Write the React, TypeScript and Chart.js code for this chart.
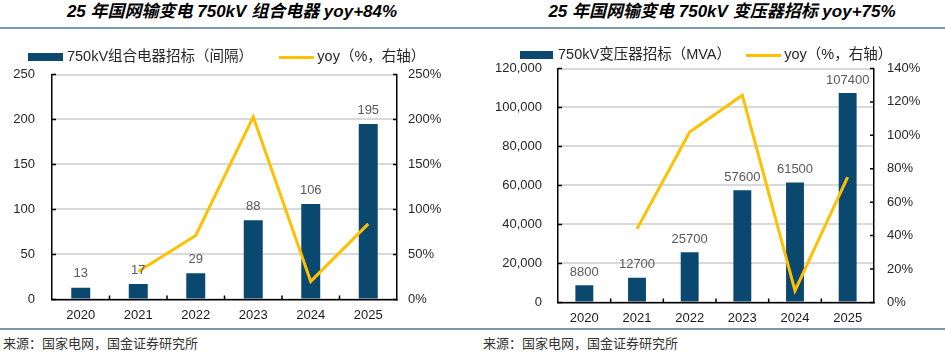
import React, { useEffect, useRef } from 'react';
import { Chart, registerables } from 'chart.js';

Chart.register(...registerables);

// ---------- data ----------
const years = ['2020', '2021', '2022', '2023', '2024', '2025'];
const gisValues = [13, 17, 29, 88, 106, 195];
const gisYoy = [null, 31, 71, 203, 20, 84];
const trafoValues = [8800, 12700, 25700, 57600, 61500, 107400];
const trafoYoy = [null, 44, 102, 124, 7, 75];

const gisTitle = '25 年国网输变电 750kV 组合电器 yoy+84%';
const trafoTitle = '25 年国网输变电 750kV 变压器招标 yoy+75%';
const gisBarLabel = '750kV组合电器招标（间隔）';
const trafoBarLabel = '750kV变压器招标（MVA）';
const yoyLabel = 'yoy（%，右轴）';
const sourceText = '来源：国家电网，国金证券研究所';

const gisLeftAxis = { min: 0, max: 250, step: 50 };
const gisRightAxis = { min: 0, max: 250, step: 50 };
const trafoLeftAxis = { min: 0, max: 120000, step: 20000 };
const trafoRightAxis = { min: 0, max: 140, step: 20 };

// ---------- style ----------
const BAR = '#0b4870';
const LINE = '#ffc000';
const LATIN = "'Liberation Sans', Arial, 'Noto Sans CJK SC', sans-serif";

function makeSwatch(w: number, h: number, color: string) {
  const c = document.createElement('canvas');
  c.width = w;
  c.height = h;
  const x = c.getContext('2d')!;
  x.fillStyle = color;
  x.fillRect(0, 0, w, h);
  return c;
}

const innerTicks = {
  id: 'innerTicks',
  afterDraw(chart: any) {
    const { ctx, chartArea: a, scales } = chart;
    ctx.save();
    ctx.strokeStyle = '#000';
    ctx.lineWidth = 1.5;
    ctx.beginPath();
    scales.y.ticks.forEach((t: any) => {
      const y = scales.y.getPixelForValue(t.value);
      ctx.moveTo(a.left, y);
      ctx.lineTo(a.left + 4, y);
    });
    scales.y1.ticks.forEach((t: any) => {
      const y = scales.y1.getPixelForValue(t.value);
      ctx.moveTo(a.right - 4, y);
      ctx.lineTo(a.right, y);
    });
    const n = scales.x.ticks.length;
    for (let i = 1; i < n; i++) {
      const x = (scales.x.getPixelForTick(i - 1) + scales.x.getPixelForTick(i)) / 2;
      ctx.moveTo(x, a.bottom);
      ctx.lineTo(x, a.bottom - 4);
    }
    ctx.stroke();
    ctx.restore();
  },
};

function barLabels(offset: number) {
  return {
    id: 'barLabels',
    afterDatasetsDraw(chart: any) {
      const { ctx } = chart;
      const meta = chart.getDatasetMeta(0);
      const data = chart.data.datasets[0].data;
      ctx.save();
      ctx.font = `13px ${LATIN}`;
      ctx.fillStyle = '#595959';
      ctx.textAlign = 'center';
      ctx.textBaseline = 'middle';
      meta.data.forEach((el: any, i: number) => {
        ctx.fillText(String(data[i]), el.x, el.y - offset);
      });
      ctx.restore();
    },
  };
}

type Cfg = {
  values: number[];
  yoy: (number | null)[];
  barLabel: string;
  left: { min: number; max: number; step: number };
  right: { min: number; max: number; step: number };
  leftFmt: (v: number) => string;
  leftWidth: number;
  rightWidth: number;
  leftPad: number;
  rightPad: number;
  legendPad: number;
  legendMaxH: number;
  layoutPad: { top: number; left: number; right: number; bottom: number };
  swatchW: number;
  barPct: number;
  labelOffset: number;
  width: number;
  height: number;
};

function ComboChart({ cfg }: { cfg: Cfg }) {
  const ref = useRef<HTMLCanvasElement>(null);
  useEffect(() => {
    const barSwatch = makeSwatch(cfg.swatchW, 8, BAR);
    const lineSwatch = makeSwatch(35, 3, LINE);
    const tickFont = { family: LATIN, size: 13 };
    const chart = new Chart(ref.current!, {
      type: 'bar',
      data: {
        labels: years,
        datasets: [
          {
            type: 'bar',
            label: cfg.barLabel,
            data: cfg.values,
            backgroundColor: BAR,
            yAxisID: 'y',
            order: 2,
            categoryPercentage: 1,
            barPercentage: cfg.barPct,
          } as any,
          {
            type: 'line',
            label: yoyLabel,
            data: cfg.yoy,
            borderColor: LINE,
            backgroundColor: LINE,
            borderWidth: 3,
            pointRadius: 0,
            tension: 0,
            yAxisID: 'y1',
            order: 1,
          } as any,
        ],
      },
      options: {
        animation: false,
        responsive: false,
        maintainAspectRatio: false,
        layout: { padding: cfg.layoutPad },
        plugins: {
          tooltip: { enabled: false },
          legend: {
            display: true,
            position: 'top',
            align: 'center',
            maxHeight: cfg.legendMaxH,
            labels: {
              usePointStyle: true,
              pointStyleWidth: 28,
              boxHeight: 8,
              padding: cfg.legendPad,
              color: '#262626',
              font: { family: LATIN, size: 14.5 },
              sort: (a: any, b: any) => a.datasetIndex - b.datasetIndex,
              generateLabels: (ch: any) => {
                const items = (Chart.defaults.plugins.legend.labels as any).generateLabels(ch);
                items.forEach((it: any) => {
                  it.pointStyle = it.datasetIndex === 0 ? barSwatch : lineSwatch;
                  it.lineWidth = 0;
                });
                return items;
              },
            },
          },
        },
        scales: {
          x: {
            grid: { display: false, drawTicks: false },
            border: { display: true, color: '#000', width: 1.5 },
            ticks: { padding: 8, color: '#1a1a1a', font: tickFont, maxRotation: 0 },
          },
          y: {
            position: 'left',
            min: cfg.left.min,
            max: cfg.left.max,
            ticks: {
              stepSize: cfg.left.step,
              padding: cfg.leftPad,
              color: '#262626',
              font: tickFont,
              callback: (v: any) => cfg.leftFmt(Number(v)),
            },
            grid: { color: '#d9d9d9', lineWidth: 2, drawTicks: false },
            border: { display: true, color: '#000', width: 1.5 },
            afterFit: (s: any) => {
              s.width = cfg.leftWidth;
            },
          },
          y1: {
            position: 'right',
            min: cfg.right.min,
            max: cfg.right.max,
            ticks: {
              stepSize: cfg.right.step,
              padding: cfg.rightPad,
              color: '#262626',
              font: tickFont,
              callback: (v: any) => `${v}%`,
            },
            grid: { drawOnChartArea: false, drawTicks: false },
            border: { display: true, color: '#000', width: 1.5 },
            afterFit: (s: any) => {
              s.width = cfg.rightWidth;
            },
          },
        },
      } as any,
      plugins: [innerTicks, barLabels(cfg.labelOffset)],
    });
    return () => chart.destroy();
  }, [cfg]);
  return <canvas ref={ref} width={cfg.width} height={cfg.height} style={{ width: cfg.width, height: cfg.height, display: 'block' }} />;
}

const gisCfg: Cfg = {
  values: gisValues,
  yoy: gisYoy,
  barLabel: gisBarLabel,
  left: gisLeftAxis,
  right: gisRightAxis,
  leftFmt: (v) => String(v),
  leftWidth: 52,
  rightWidth: 60,
  leftPad: 17,
  rightPad: 11,
  legendPad: 29,
  legendMaxH: 200,
  layoutPad: { top: 0, left: 0, right: 13, bottom: 0 },
  swatchW: 35,
  barPct: 0.33,
  labelOffset: 14,
  width: 470,
  height: 310,
};

const trafoCfg: Cfg = {
  values: trafoValues,
  yoy: trafoYoy,
  barLabel: trafoBarLabel,
  left: trafoLeftAxis,
  right: trafoRightAxis,
  leftFmt: (v) => v.toLocaleString('en-US'),
  leftWidth: 88,
  rightWidth: 71,
  leftPad: 16,
  rightPad: 13,
  legendPad: 18,
  legendMaxH: 38.5,
  layoutPad: { top: 0, left: 0, right: 0, bottom: 0 },
  swatchW: 33,
  barPct: 0.34,
  labelOffset: 13,
  width: 475,
  height: 304,
};

const titleStyle: React.CSSProperties = {
  position: 'absolute',
  top: 2,
  fontFamily: LATIN,
  fontWeight: 'bold',
  fontStyle: 'italic',
  fontSize: 17,
  lineHeight: '20px',
  color: '#000',
  textAlign: 'center',
  whiteSpace: 'nowrap',
};

const sourceStyle: React.CSSProperties = {
  position: 'absolute',
  top: 335,
  fontFamily: "'Noto Sans CJK SC', sans-serif",
  fontSize: 13,
  lineHeight: '16px',
  color: '#333',
  whiteSpace: 'nowrap',
};

export default function App() {
  return (
    <div style={{ position: 'absolute', left: 0, top: 0, width: 945, height: 353, background: '#fff', overflow: 'hidden' }}>
      <div style={{ ...titleStyle, left: 0, width: 464 }}>{gisTitle}</div>
      <div style={{ ...titleStyle, left: 470, width: 504 }}>{trafoTitle}</div>
      <div style={{ position: 'absolute', left: 0, top: 27, width: 945, height: 2, background: '#7a9aae' }} />
      <div style={{ position: 'absolute', left: 0, top: 328, width: 945, height: 2, background: '#7a9aae' }} />
      <div style={{ ...sourceStyle, left: 3 }}>{sourceText}</div>
      <div style={{ ...sourceStyle, left: 483 }}>{sourceText}</div>
      <div style={{ position: 'absolute', left: 0, top: 21 }}>
        <ComboChart cfg={gisCfg} />
      </div>
      <div style={{ position: 'absolute', left: 470, top: 30 }}>
        <ComboChart cfg={trafoCfg} />
      </div>
    </div>
  );
}
